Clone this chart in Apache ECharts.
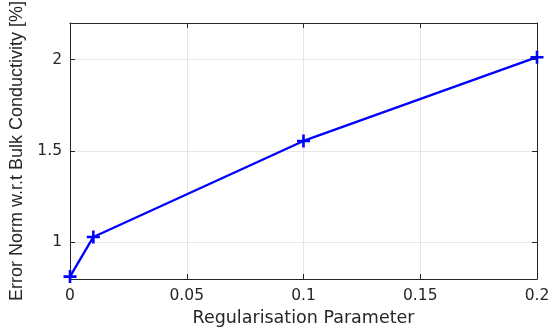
<!DOCTYPE html>
<html>
<head>
<meta charset="utf-8">
<script src="https://cdn.jsdelivr.net/npm/echarts@6/dist/echarts.min.js"></script>
<style>
html,body{margin:0;padding:0;background:#fff;}
#chart{width:550px;height:333px;}
</style>
</head>
<body>
<div id="chart"></div>
<script>
// Regularisation parameter vs. error norm
const regParams = [0, 0.01, 0.1, 0.2];
const errorNorm = [0.813, 1.03, 1.555, 2.013];
const xTicks = [0, 0.05, 0.1, 0.15, 0.2];
const yTicks = [1, 1.5, 2];

const wideFont = 'DejaVu Sans, Verdana, sans-serif';
const fontFam = 'Liberation Sans, Arial, Helvetica, sans-serif';
const axisCol = '#262626';

const chart = echarts.init(document.getElementById('chart'));

function boxAxis(pos, extra) {
  return Object.assign({
    type: 'value',
    position: pos,
    axisLine: { show: true, onZero: false, lineStyle: { color: axisCol, width: 1 } },
    splitLine: { show: false },
    axisLabel: { show: false }
  }, extra);
}

const tick = vals => ({ show: true, inside: true, length: 5, lineStyle: { color: axisCol }, customValues: vals });
const fmt = v => String(+v.toFixed(2));

chart.setOption({
  animation: false,
  grid: { left: 70, right: 13, top: 23, bottom: 54, containLabel: false, outerBoundsMode: 'none' },
  xAxis: [
    boxAxis('bottom', {
      min: 0, max: 0.2, interval: 0.05,
      name: 'Regularisation Parameter',
      nameLocation: 'middle', nameGap: 30,
      nameTextStyle: { fontFamily: wideFont, fontSize: 17.5, color: axisCol },
      axisLabel: { show: true, margin: 9, fontFamily: wideFont, fontSize: 15.5, color: axisCol, customValues: xTicks, formatter: fmt },
      axisTick: tick(xTicks),
      splitLine: { show: true, lineStyle: { color: '#e6e6e6', width: 1 } }
    }),
    boxAxis('top', { min: 0, max: 0.2, interval: 0.05, axisTick: tick(xTicks) })
  ],
  yAxis: [
    boxAxis('left', {
      min: 0.8, max: 2.2,
      name: 'Error Norm w.r.t Bulk Conductivity [%]',
      nameLocation: 'middle', nameGap: 35,
      nameTextStyle: { fontFamily: fontFam, fontSize: 18, color: axisCol },
      axisLabel: { show: true, margin: 8, fontFamily: wideFont, fontSize: 15.5, color: axisCol, customValues: yTicks, formatter: fmt },
      axisTick: tick(yTicks),
      splitLine: { show: true, lineStyle: { color: '#e6e6e6', width: 1 } }
    }),
    boxAxis('right', { min: 0.8, max: 2.2, axisTick: tick(yTicks) })
  ],
  series: [{
    type: 'line',
    data: regParams.map((x, i) => [x, errorNorm[i]]),
    symbol: 'path://M4,0H6V4H10V6H6V10H4V6H0V4H4Z',
    symbolSize: 13,
    showAllSymbol: true,
    clip: false,
    itemStyle: { color: '#0000ff' },
    lineStyle: { color: '#0000ff', width: 2.3 },
    z: 5
  }]
});
</script>
</body>
</html>
